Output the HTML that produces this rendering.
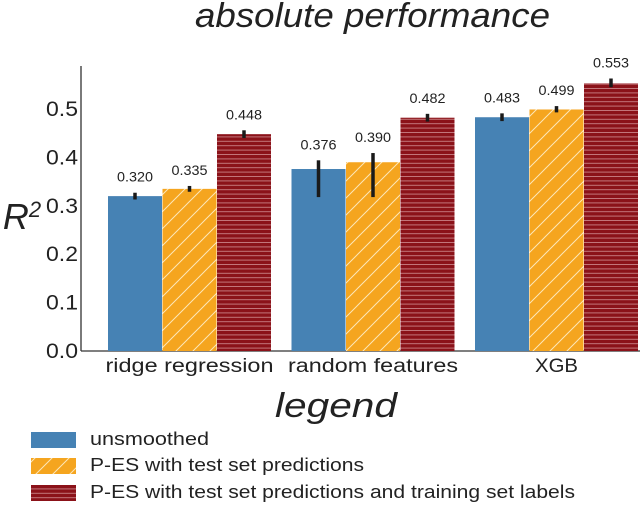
<!DOCTYPE html>
<html><head><meta charset="utf-8"><style>
body{margin:0;background:#fff;}
svg text{font-family:"Liberation Sans",sans-serif;}
</style></head><body>
<svg width="640" height="506" viewBox="0 0 640 506" xmlns="http://www.w3.org/2000/svg">
<defs>
<pattern id="hatch" patternUnits="userSpaceOnUse" width="17" height="17">
<rect width="17" height="17" fill="#f5a51f"/>
<path d="M0,17 L17,0 M-4,4 L4,-4 M13,21 L21,13" stroke="#fde6b8" stroke-width="1"/>
</pattern>
<pattern id="stripes" patternUnits="userSpaceOnUse" width="10" height="4.4">
<rect width="10" height="4.4" fill="#8b1219"/>
<line x1="0" y1="0.5" x2="10" y2="0.5" stroke="#c98084" stroke-width="0.9"/>
</pattern>
</defs>
<text x="195" y="27" font-size="34" font-style="italic" textLength="355" lengthAdjust="spacingAndGlyphs" fill="#222">absolute performance</text>
<g id="axes"></g>
<g id="bars"></g>
<text x="22" y="229" font-size="36" font-style="italic" text-anchor="middle" fill="#222">R<tspan font-size="22" dy="-12">2</tspan></text>
<text x="275" y="417" font-size="34" font-style="italic" textLength="122" lengthAdjust="spacingAndGlyphs" fill="#222">legend</text>
<g>
<rect x="31" y="432" width="45" height="16" fill="#4682b4"/>
<text x="90" y="445" font-size="18" textLength="119" lengthAdjust="spacingAndGlyphs" fill="#222">unsmoothed</text>
<rect x="31" y="458" width="45" height="16" fill="url(#hatch)"/>
<text x="90" y="471" font-size="18" textLength="274" lengthAdjust="spacingAndGlyphs" fill="#222">P-ES with test set predictions</text>
<rect x="31" y="485" width="45" height="16" fill="url(#stripes)"/>
<text x="90" y="498" font-size="18" textLength="485" lengthAdjust="spacingAndGlyphs" fill="#222">P-ES with test set predictions and training set labels</text>
</g>
</svg>
<script>
const categories = ["ridge regression","random features","XGB"];
const unsmoothed = [0.320,0.376,0.483];
const pesTest = [0.335,0.390,0.499];
const pesTrain = [0.448,0.482,0.553];
const lowUnsmoothed = [0.313,0.318,0.475];
const highUnsmoothed = [0.327,0.394,0.491];
const lowPesTest = [0.329,0.318,0.493];
const highPesTest = [0.341,0.409,0.506];
const lowPesTrain = [0.440,0.474,0.545];
const highPesTrain = [0.456,0.490,0.563];
const yTicks = [0.0,0.1,0.2,0.3,0.4,0.5];

const NS="http://www.w3.org/2000/svg";
const base=351, scale=484, x0=81, groupW=183.5, firstX=108, barW=54;
const labelWidths=[168,170,43];
const yS=v=>base-v*scale;
const xS=(g,s)=>firstX+g*groupW+s*54.5;
function mk(tag,attrs,parent){const e=document.createElementNS(NS,tag);for(const k in attrs)e.setAttribute(k,attrs[k]);parent.appendChild(e);return e;}
const axes=document.getElementById('axes'), bars=document.getElementById('bars');
let a=mk('line',{x1:x0,y1:66,x2:x0,y2:base,stroke:'#333','stroke-width':1.3},axes);


a=mk('line',{x1:x0,y1:base,x2:640,y2:base,stroke:'#333','stroke-width':1.3},axes);


yTicks.forEach(t=>{const e=mk('text',{x:78,y:yS(t)+7,'font-size':21,'text-anchor':'end',textLength:32,lengthAdjust:'spacingAndGlyphs',fill:'#222'},axes);e.textContent=t.toFixed(1);

});
categories.forEach((c,g)=>{const cx=xS(g,1)+barW/2;const e=mk('text',{x:cx-labelWidths[g]/2,y:372,'font-size':19,textLength:labelWidths[g],lengthAdjust:'spacingAndGlyphs',fill:'#222'},axes);e.textContent=c;

});
const series=[[unsmoothed,lowUnsmoothed,highUnsmoothed,'#4682b4','unsmoothed'],[pesTest,lowPesTest,highPesTest,'url(#hatch)','pes-test'],[pesTrain,lowPesTrain,highPesTrain,'url(#stripes)','pes-train']];
series.forEach(([vals,lows,highs,fill,nm],s)=>{vals.forEach((v,g)=>{
const x=xS(g,s);
const r=mk('rect',{x:x,y:yS(v),width:barW,height:base-yS(v),fill:fill},bars);


const eb=mk('line',{x1:x+barW/2,x2:x+barW/2,y1:yS(highs[g]),y2:yS(lows[g]),stroke:'#1a1a1a','stroke-width':3.5},bars);


const t=mk('text',{x:x+barW/2-18,y:yS(highs[g])-11,'font-size':14,textLength:36,lengthAdjust:'spacingAndGlyphs',fill:'#222'},bars);
t.textContent=v.toFixed(3);


});});
</script>
</body></html>
